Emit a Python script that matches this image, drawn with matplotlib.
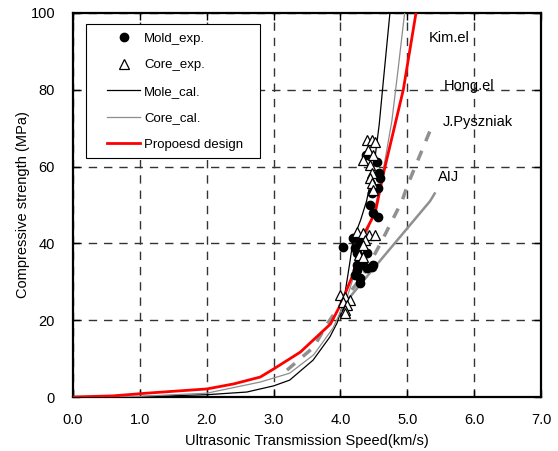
import numpy as np
import matplotlib
matplotlib.use('Agg')
import matplotlib.pyplot as plt
from matplotlib.patches import Rectangle

plt.rcParams['font.family'] = ['Liberation Sans', 'DejaVu Sans']

# experimental points
mold_x = [4.38, 4.54, 4.58, 4.59, 4.56, 4.47, 4.44, 4.49, 4.56, 4.04, 4.19, 4.29, 4.22,
          4.25, 4.39, 4.29, 4.25, 4.34, 4.49, 4.25, 4.39, 4.47, 4.29, 4.29, 4.22]
mold_y = [63, 61.2, 58.3, 57, 54.4, 53, 50, 48, 46.9, 39, 41.4, 40.4, 38.8,
          37.5, 37.5, 36.5, 34.4, 34.4, 34.4, 33, 33.6, 33.9, 31, 29.7, 31.8]

core_x = [4.39, 4.47, 4.52, 4.41, 4.49, 4.34, 4.44, 4.47, 4.44, 4.47, 4.49,
          4.25, 4.34, 4.43, 4.52, 4.37, 4.34, 4.27, 4.34,
          3.99, 4.07, 4.14, 4.04, 4.10, 4.07, 4.07]
core_y = [66.9, 66.9, 66.4, 64.3, 63, 61.7, 60.4, 58.3, 57, 55.7, 54,
          43, 42.7, 42.2, 42.2, 40.9, 39.6, 37, 36.5,
          26.6, 26, 25.3, 24.7, 24, 22.7, 21.9]

# calculated curves
mole_x = [0, 1.0, 2.0, 2.6, 3.0, 3.24, 3.59, 3.84, 3.95, 4.05, 4.14, 4.19, 4.30, 4.39, 4.50, 4.58, 4.64, 4.74]
mole_y = [0, 0.1, 0.6, 1.3, 2.9, 4.4, 9.6, 15.6, 19.3, 25, 35, 41, 46, 51, 60, 71, 82, 100]

corec_x = [0, 1.0, 2.0, 2.8, 3.24, 3.6, 3.89, 4.10, 4.30, 4.54, 4.66, 4.77, 4.86, 4.96]
corec_y = [0, 0.2, 1.0, 3.9, 6.2, 11, 18, 26, 37, 51, 61, 72, 85, 100]

prop_x = [0, 0.6, 1.1, 2.0, 2.4, 2.8, 3.0, 3.4, 3.85, 4.0, 4.19, 4.34, 4.52, 4.64, 4.79, 4.94, 5.13]
prop_y = [0, 0.3, 1.0, 2.1, 3.4, 5.2, 7.3, 11.7, 19, 24, 32, 42, 48, 58, 69, 80, 100]

jp_x = [3.2, 3.6, 3.8, 4.0, 4.35, 4.6, 4.92, 5.0, 5.38]
jp_y = [7, 13, 19, 24, 32, 40, 51, 55, 71]

aij_x = [4.05, 4.14, 4.54, 5.34, 5.41]
aij_y = [24, 26, 34.4, 51, 53]

labels = ['Kim.el', 'Hong.el', 'J.Pyszniak', 'AIJ']
label_x = [5.62, 5.92, 6.06, 5.62]
label_y = [93.5, 81, 71.6, 57.3]

fig = plt.figure(figsize=(5.58, 4.51), dpi=100)
ax = fig.add_axes([0.131, 0.1197, 0.8385, 0.8515])

ax.plot(jp_x, jp_y, color='#909090', lw=2.5, dashes=(3, 3), zorder=2)
ax.plot(aij_x, aij_y, color='#909090', lw=1.8, zorder=2)
ax.plot(mold_x, mold_y, 'o', color='black', ms=6, label='Mold_exp.', zorder=4)
ax.plot(core_x, core_y, '^', mfc='white', mec='black', mew=0.9, ms=6.5, label='Core_exp.', zorder=4)
ax.plot(mole_x, mole_y, color='black', lw=0.9, label='Mole_cal.', zorder=3)
ax.plot(corec_x, corec_y, color='#8c8c8c', lw=0.9, label='Core_cal.', zorder=3)
ax.plot(prop_x, prop_y, color='#ff0000', lw=2.0, label='Propoesd design', zorder=3)

for t, x, y in zip(labels, label_x, label_y):
    ax.text(x, y, t, fontsize=10.5, ha='center', va='center', zorder=5)

ax.set_xlim(0, 7)
ax.set_ylim(0, 100)
ax.set_xticks(np.arange(0, 7.01, 1.0))
ax.set_xticklabels(['%.1f' % v for v in np.arange(0, 7.01, 1.0)])
ax.set_yticks(np.arange(0, 101, 20))
ax.tick_params(direction='in', top=True, right=True, length=5, width=1, labelsize=10.5)
ax.tick_params(axis='x', pad=11.5)
ax.tick_params(axis='y', pad=13)
ax.grid(True, color='#333333', lw=1.0, dashes=(6, 5))
for s in ax.spines.values():
    s.set_linewidth(1.6)

ax.set_xlabel('Ultrasonic Transmission Speed(km/s)', fontsize=10.5, labelpad=5)
ax.set_ylabel('Compressive strength (MPa)', fontsize=10.5, labelpad=0)

# legend box drawn by hand, entries without frame
ax.add_patch(Rectangle((0.0278, 0.6224), 0.3718, 0.349, transform=ax.transAxes,
                       facecolor='white', edgecolor='black', lw=0.8, zorder=6))
leg = ax.legend(loc='upper left', bbox_to_anchor=(0.0726, 0.949), fontsize=9.5,
                frameon=False, borderpad=0, borderaxespad=0,
                handlelength=2.5, handletextpad=0.3, labelspacing=1.08)
leg.set_zorder(7)

fig.savefig('out.png', dpi=100)
